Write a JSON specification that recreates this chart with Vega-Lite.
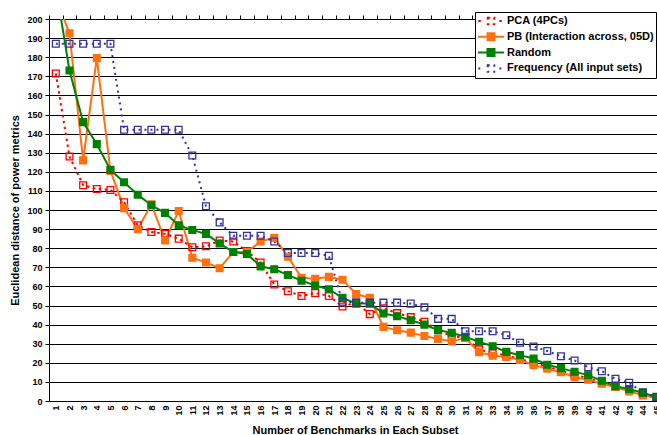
{
  "$schema": "https://vega.github.io/schema/vega-lite/v6.json",
  "width": 608,
  "height": 382,
  "autosize": "none",
  "padding": {"left": 49, "top": 19, "right": 0, "bottom": 34},
  "background": "white",
  "config": {"font": "Liberation Sans", "view": {"stroke": null}},
  "data": {
    "values": [
      {"n": 1, "pca": 171.5, "pb": 211, "random": 217, "freq": 187},
      {"n": 2, "pca": 128, "pb": 192.5, "random": 173, "freq": 187},
      {"n": 3, "pca": 113, "pb": 126, "random": 146, "freq": 187},
      {"n": 4, "pca": 111, "pb": 179.5, "random": 134.5, "freq": 187},
      {"n": 5, "pca": 110.5, "pb": 120.5, "random": 121, "freq": 187},
      {"n": 6, "pca": 104, "pb": 101, "random": 114.5, "freq": 142},
      {"n": 7, "pca": 92, "pb": 90, "random": 108, "freq": 142},
      {"n": 8, "pca": 88.5, "pb": 103, "random": 102.5, "freq": 142},
      {"n": 9, "pca": 87.5, "pb": 84, "random": 98.5, "freq": 142},
      {"n": 10, "pca": 85, "pb": 99.5, "random": 92, "freq": 142},
      {"n": 11, "pca": 80.5, "pb": 75, "random": 89.5, "freq": 128.5},
      {"n": 12, "pca": 81, "pb": 72.5, "random": 87.5, "freq": 102},
      {"n": 13, "pca": 84, "pb": 69.5, "random": 82.5, "freq": 93.5},
      {"n": 14, "pca": 83.5, "pb": 78, "random": 78, "freq": 86.5},
      {"n": 15, "pca": 78.5, "pb": 78, "random": 77, "freq": 86.5},
      {"n": 16, "pca": 72.5, "pb": 83.5, "random": 70.5, "freq": 86.5},
      {"n": 17, "pca": 61, "pb": 85.5, "random": 69, "freq": 83.5},
      {"n": 18, "pca": 57.5, "pb": 75.5, "random": 66, "freq": 77.5},
      {"n": 19, "pca": 55, "pb": 64.5, "random": 63, "freq": 77.5},
      {"n": 20, "pca": 56.5, "pb": 64, "random": 60.5, "freq": 77.5},
      {"n": 21, "pca": 55, "pb": 65, "random": 58.5, "freq": 76},
      {"n": 22, "pca": 49.5, "pb": 63.5, "random": 54, "freq": 52},
      {"n": 23, "pca": 51.5, "pb": 56, "random": 51, "freq": 51.5},
      {"n": 24, "pca": 45.5, "pb": 54, "random": 51, "freq": 51.5},
      {"n": 25, "pca": 48.5, "pb": 38.8, "random": 45.8, "freq": 51.5},
      {"n": 26, "pca": 46, "pb": 37, "random": 44.4, "freq": 51.5},
      {"n": 27, "pca": 43.9, "pb": 35.8, "random": 42.3, "freq": 51},
      {"n": 28, "pca": 41.5, "pb": 34, "random": 40, "freq": 49},
      {"n": 29, "pca": 37, "pb": 32.5, "random": 37.1, "freq": 43},
      {"n": 30, "pca": 34, "pb": 31.2, "random": 35.7, "freq": 43},
      {"n": 31, "pca": 33, "pb": 33, "random": 33.6, "freq": 36.5},
      {"n": 32, "pca": 27, "pb": 25.5, "random": 31, "freq": 36.5},
      {"n": 33, "pca": 25, "pb": 23.7, "random": 28.7, "freq": 36.5},
      {"n": 34, "pca": 24, "pb": 23, "random": 25.7, "freq": 34.4},
      {"n": 35, "pca": 22, "pb": 21.5, "random": 24, "freq": 30.5},
      {"n": 36, "pca": 20, "pb": 18.8, "random": 22.2, "freq": 28.5},
      {"n": 37, "pca": 18, "pb": 16.9, "random": 19, "freq": 26.2},
      {"n": 38, "pca": 16, "pb": 15.1, "random": 17.2, "freq": 23.4},
      {"n": 39, "pca": 13.5, "pb": 12.5, "random": 15.3, "freq": 21.2},
      {"n": 40, "pca": 12, "pb": 11.1, "random": 13.5, "freq": 17.7},
      {"n": 41, "pca": 9.5, "pb": 9, "random": 10.6, "freq": 15.6},
      {"n": 42, "pca": 7.5, "pb": 7.3, "random": 7.7, "freq": 11.6},
      {"n": 43, "pca": 5.5, "pb": 5, "random": 6.3, "freq": 9.5},
      {"n": 44, "pca": 3, "pb": 3, "random": 4.3, "freq": 4.6},
      {"n": 45, "pca": 1.5, "pb": 1.7, "random": 2, "freq": 2.2}
    ]
  },
  "transform": [
    {"fold": ["pca", "pb", "random", "freq"], "as": ["series", "value"]}
  ],
  "encoding": {
    "y": {
      "field": "value",
      "type": "quantitative",
      "scale": {"domain": [0, 200], "nice": false, "zero": true},
      "axis": {
        "values": [0, 10, 20, 30, 40, 50, 60, 70, 80, 90, 100, 110, 120, 130, 140, 150, 160, 170, 180, 190, 200],
        "title": "Euclidean distance of power metrics",
        "grid": true,
        "gridColor": "#000",
        "gridWidth": 1,
        "domainColor": "#000",
        "tickColor": "#000",
        "tickSize": 4,
        "labelPadding": 3,
        "labelFont": "Liberation Sans",
        "labelFontSize": 9,
        "labelFontWeight": "bold",
        "labelColor": "#000",
        "titleFont": "Liberation Sans",
        "titleFontSize": 11,
        "titleFontWeight": "bold",
        "titleColor": "#000",
        "titleAngle": 270,
        "titleAlign": "center",
        "titleBaseline": "middle",
        "titleX": -34,
        "titleY": 191
      }
    },
    "color": {
      "field": "series",
      "type": "nominal",
      "scale": {
        "domain": ["pca", "pb", "random", "freq"],
        "range": ["#FF0000", "#FF7010", "#008000", "#333399"]
      },
      "legend": {
        "title": null,
        "orient": "none",
        "legendX": 426,
        "legendY": -7,
        "direction": "vertical",
        "strokeColor": "#000",
        "fillColor": "white",
        "padding": 2,
        "symbolSize": 676,
        "symbolDash": [1, 0],
        "clipHeight": 14,
        "rowPadding": 1.8,
        "labelFont": "Liberation Sans",
        "labelFontSize": 11,
        "labelFontWeight": "bold",
        "labelColor": "#000",
        "labelOffset": 2,
        "labelLimit": 400,
        "labelExpr": "{'pca': 'PCA (4PCs)', 'pb': 'PB (Interaction across, 05D)', 'random': 'Random', 'freq': 'Frequency (All input sets)'}[datum.value]",
        "encode": {
          "symbols": {
            "update": {
              "shape": {"signal": "datum.value === 'pb' || datum.value === 'random' ? 'M-1,0H1M-0.27,-0.27H0.27V0.27H-0.27Z' : 'M-0.98,0H-0.64M0.64,0H0.98M-0.25,-0.25H0.25V0.25H-0.25Z'"},
              "fill": {"signal": "datum.value === 'pb' ? '#FF7010' : datum.value === 'random' ? '#008000' : 'transparent'"},
              "stroke": {"scale": "color", "field": "value"},
              "strokeWidth": {"signal": "datum.value === 'pb' || datum.value === 'random' ? 2 : 1.5"},
              "strokeDash": {"value": [1, 0]},
              "opacity": {"value": 1}
            }
          }
        }
      }
    }
  },
  "layer": [
    {
      "mark": {"type": "line", "clip": true},
      "encoding": {
        "x": {
          "field": "n",
          "type": "quantitative",
          "scale": {"domain": [0.5, 45.04], "nice": false, "zero": false},
          "axis": {
            "values": [1, 2, 3, 4, 5, 6, 7, 8, 9, 10, 11, 12, 13, 14, 15, 16, 17, 18, 19, 20, 21, 22, 23, 24, 25, 26, 27, 28, 29, 30, 31, 32, 33, 34, 35, 36, 37, 38, 39, 40, 41, 42, 43, 44, 45],
            "labelAngle": 270,
            "labelOverlap": false,
            "ticks": false,
            "tickSize": 0,
            "domain": false,
            "grid": false,
            "labelPadding": 4,
            "labelFont": "Liberation Sans",
            "labelFontSize": 9,
            "labelFontWeight": "bold",
            "labelColor": "#000",
            "title": "Number of Benchmarks in Each Subset",
            "titleFont": "Liberation Sans",
            "titleFontSize": 11,
            "titleFontWeight": "bold",
            "titleColor": "#000",
            "titleAlign": "center",
            "titleBaseline": "middle",
            "titleX": 306,
            "titleY": 29
          }
        },
        "strokeDash": {
          "field": "series",
          "type": "nominal",
          "scale": {
            "domain": ["pca", "pb", "random", "freq"],
            "range": [[2.5, 3.5], [1, 0], [1, 0], [2, 4]]
          },
          "legend": null
        },
        "strokeWidth": {
          "field": "series",
          "type": "nominal",
          "scale": {
            "domain": ["pca", "pb", "random", "freq"],
            "range": [2, 2, 2, 1.6]
          },
          "legend": null
        }
      }
    },
    {
      "mark": {"type": "point", "shape": "square", "size": 46, "strokeWidth": 1.3, "opacity": 1, "clip": true},
      "encoding": {
        "x": {
          "field": "n",
          "type": "quantitative",
          "scale": {"domain": [0.5, 45.04], "nice": false, "zero": false},
          "axis": {
            "values": [0.5, 1.5, 2.5, 3.5, 4.5, 5.5, 6.5, 7.5, 8.5, 9.5, 10.5, 11.5, 12.5, 13.5, 14.5, 15.5, 16.5, 17.5, 18.5, 19.5, 20.5, 21.5, 22.5, 23.5, 24.5, 25.5, 26.5, 27.5, 28.5, 29.5, 30.5, 31.5, 32.5, 33.5, 34.5, 35.5, 36.5, 37.5, 38.5, 39.5, 40.5, 41.5, 42.5, 43.5, 44.5],
            "labels": false,
            "ticks": true,
            "tickSize": 4,
            "tickColor": "#000",
            "domain": true,
            "domainColor": "#000",
            "grid": false,
            "title": null
          }
        },
        "fill": {
          "field": "series",
          "type": "nominal",
          "scale": {
            "domain": ["pca", "pb", "random", "freq"],
            "range": ["transparent", "#FF7010", "#008000", "transparent"]
          },
          "legend": null
        }
      }
    }
  ],
  "resolve": {"axis": {"x": "independent"}}
}
